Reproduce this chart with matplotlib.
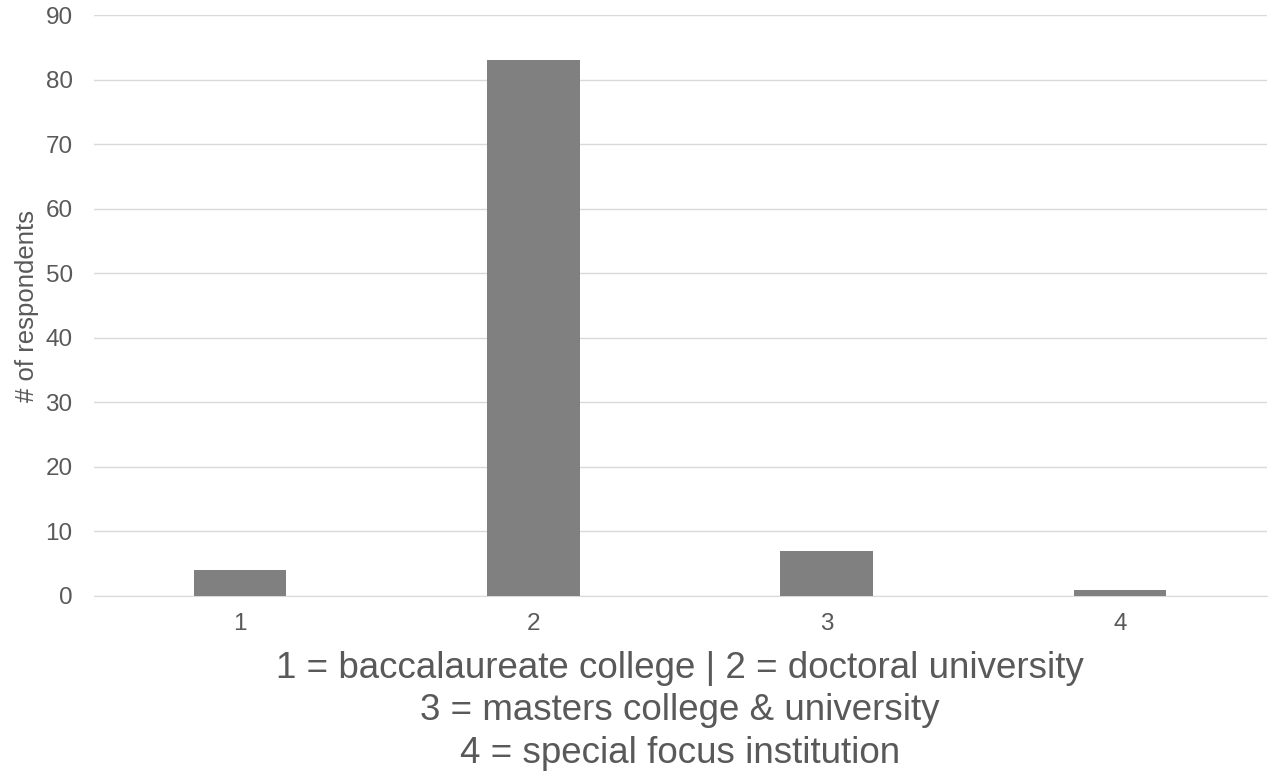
import matplotlib
matplotlib.use("Agg")
import matplotlib.pyplot as plt
import numpy as np

categories = ["1", "2", "3", "4"]
respondents = [4, 83, 7, 1]
y_ticks = [0, 10, 20, 30, 40, 50, 60, 70, 80, 90]

plt.rcParams["font.family"] = ["Liberation Sans", "DejaVu Sans"]

fig = plt.figure(figsize=(12.72, 7.75), dpi=100)
ax = fig.add_axes([93.5 / 1272, 1 - 596 / 775, 1173 / 1272, 581 / 775])

x = np.arange(len(categories))
ax.bar(x, respondents, width=0.315, color="#808080", zorder=3)

ax.set_xlim(-0.5, len(categories) - 0.5)
ax.set_ylim(0, 90)
ax.set_yticks(y_ticks)
ax.set_xticks(x)
ax.set_xticklabels(categories)
ax.tick_params(axis="both", length=0, labelsize=17.5, colors="#595959")
ax.tick_params(axis="x", pad=12.5)
ax.tick_params(axis="y", pad=15)

ax.grid(axis="y", color="#d9d9d9", linewidth=1, zorder=0)
for s in ["top", "right", "left"]:
    ax.spines[s].set_visible(False)
ax.spines["bottom"].set_color("#d9d9d9")

ax.set_ylabel("# of respondents", fontsize=18.5, color="#595959", labelpad=4.5)
ax.set_xlabel("1 = baccalaureate college | 2 = doctoral university\n"
              "3 = masters college & university\n"
              "4 = special focus institution",
              fontsize=26.5, color="#595959", linespacing=1.28, labelpad=11)

fig.savefig("out.png", dpi=100)
